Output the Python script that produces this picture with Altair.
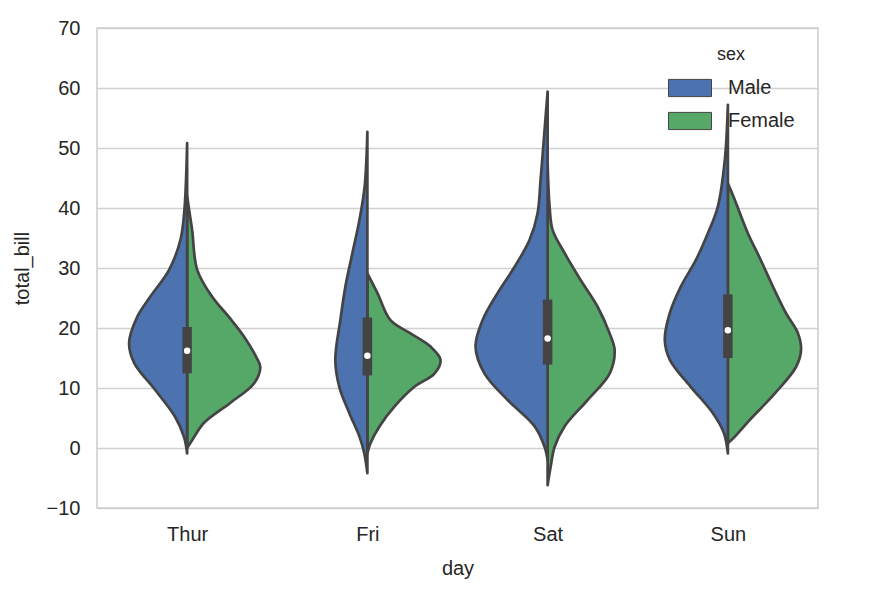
import altair as alt
import pandas as pd

DAYS = ["Thur", "Fri", "Sat", "Sun"]
SEXES = ["Male", "Female"]
COLORS = ["#4C72B0", "#55A868"]

# violin profiles: total_bill levels and half widths (x units)
THUR_MALE_Y = [50.8, 39.7, 34.7, 29.7, 25.2, 21.8, 17.5, 14.2, 9.7, 5.2, 1.8, -0.9]
THUR_MALE_W = [0, .015, .037, .10, .205, .278, .322, .294, .178, .067, .017, 0]
THUR_FEMALE_Y = [42.0, 39.7, 36.3, 29.7, 25.2, 21.8, 18.5, 15.2, 13.5, 10.8, 7.5, 4.2, 1.3, 0.0]
THUR_FEMALE_W = [0, .011, .028, .056, .139, .233, .317, .383, .406, .372, .239, .094, .028, 0]

FRI_MALE_Y = [52.7, 43.6, 38.0, 32.5, 26.9, 21.3, 14.7, 10.2, 5.8, 1.9, -0.9, -4.2]
FRI_MALE_W = [0, .015, .044, .083, .122, .15, .178, .156, .1, .044, .017, 0]
FRI_FEMALE_Y = [29.1, 25.8, 21.3, 19.1, 16.9, 14.7, 12.4, 10.2, 6.9, 3.6, 0.8, -0.9]
FRI_FEMALE_W = [0, .056, .128, .239, .35, .406, .372, .261, .15, .067, .017, 0]

SAT_MALE_Y = [59.4, 53.0, 44.7, 39.1, 34.7, 30.2, 25.8, 21.3, 16.9, 12.4, 8.0, 3.6, 0.2, -2.0]
SAT_MALE_W = [0, .017, .039, .056, .1, .183, .278, .361, .4, .35, .222, .072, .017, 0]
SAT_FEMALE_Y = [47.5, 40.2, 36.3, 32.5, 28.0, 23.5, 19.1, 16.3, 12.4, 8.0, 3.6, 0.2, -3.1, -6.2]
SAT_FEMALE_W = [0, .011, .028, .094, .183, .278, .344, .372, .344, .222, .094, .039, .017, 0]

SUN_MALE_Y = [57.2, 48.0, 40.2, 35.8, 31.3, 26.9, 22.5, 18.0, 14.7, 10.2, 5.8, 2.5, -0.9]
SUN_MALE_W = [0, .017, .056, .111, .178, .261, .322, .35, .322, .206, .083, .022, 0]
SUN_FEMALE_Y = [44.1, 41.3, 35.8, 31.3, 26.9, 22.5, 19.1, 16.3, 13.5, 9.1, 4.7, 1.9, 0.8]
SUN_FEMALE_W = [0, .039, .111, .183, .25, .322, .389, .406, .378, .261, .122, .039, 0]

# inner box per day
Q1 = [12.44, 12.09, 13.9, 14.99]
MEDIAN = [16.2, 15.38, 18.24, 19.63]
Q3 = [20.16, 21.75, 24.74, 25.6]

profiles = {
    ("Thur", "Male"): (THUR_MALE_Y, THUR_MALE_W),
    ("Thur", "Female"): (THUR_FEMALE_Y, THUR_FEMALE_W),
    ("Fri", "Male"): (FRI_MALE_Y, FRI_MALE_W),
    ("Fri", "Female"): (FRI_FEMALE_Y, FRI_FEMALE_W),
    ("Sat", "Male"): (SAT_MALE_Y, SAT_MALE_W),
    ("Sat", "Female"): (SAT_FEMALE_Y, SAT_FEMALE_W),
    ("Sun", "Male"): (SUN_MALE_Y, SUN_MALE_W),
    ("Sun", "Female"): (SUN_FEMALE_Y, SUN_FEMALE_W),
}

rows = []
for (day, sex), (ys, ws) in profiles.items():
    c = DAYS.index(day)
    sign = -1 if sex == "Male" else 1
    for y, w in zip(ys, ws):
        rows.append({"group": f"{day}-{sex}", "sex": sex, "y": y, "x": c, "x2": c + sign * w})
violins = pd.DataFrame(rows).sort_values(["group", "y"])

boxes = pd.DataFrame({"x": list(range(len(DAYS))), "q1": Q1, "q3": Q3, "med": MEDIAN})

FONT = "Liberation Sans"
OUT = "#444444"

xscale = alt.Scale(domain=[-0.5, 3.5], nice=False, zero=False)
yscale = alt.Scale(domain=[-10, 70], nice=False, zero=False)

area = alt.Chart(violins).mark_area(
    orient="horizontal", interpolate="catmull-rom", stroke=OUT, strokeWidth=2.7,
    strokeJoin="round", opacity=1
).encode(
    y=alt.Y("y:Q", scale=yscale, title="total_bill",
            axis=alt.Axis(values=list(range(-10, 71, 10)), format="d")),
    x=alt.X("x:Q", scale=xscale, title="day", stack=None,
            axis=alt.Axis(values=[0, 1, 2, 3], grid=False,
                          labelExpr="['Thur','Fri','Sat','Sun'][datum.value]")),
    x2="x2:Q",
    color=alt.Color("sex:N", scale=alt.Scale(domain=SEXES, range=COLORS),
                    legend=alt.Legend(title="sex", orient="none", legendX=571, legendY=18,
                                      titleAnchor="middle",
                                      symbolType="M-1,-0.4H1V0.4H-1Z", symbolSize=1849,
                                      symbolStrokeColor=OUT, symbolStrokeWidth=1,
                                      symbolOpacity=1, labelOffset=16, rowPadding=-12,
                                      labelFontSize=20, titleFontSize=18,
                                      titleFontWeight="normal", titlePadding=2,
                                      labelColor="#262626", titleColor="#262626",
                                      labelFont=FONT, titleFont=FONT, padding=0)),
    detail="group:N",
)

box = alt.Chart(boxes).mark_rule(color=OUT, strokeWidth=9.5, strokeCap="butt").encode(
    x=alt.X("x:Q", scale=xscale), y=alt.Y("q1:Q", scale=yscale), y2="q3:Q"
)
med = alt.Chart(boxes).mark_point(filled=True, color="white", size=42, opacity=1).encode(
    x=alt.X("x:Q", scale=xscale), y=alt.Y("med:Q", scale=yscale)
)

chart = alt.layer(area, box, med).properties(
    width=721, height=480,
    autosize=alt.AutoSizeParams(type="none"),
    padding={"left": 89, "top": 20, "right": 52, "bottom": 93},
).configure_view(
    stroke="#cccccc", strokeWidth=1.5
).configure_axis(
    domain=False, ticks=False, tickSize=0, gridColor="#d0d0d0", gridWidth=1.5,
    labelFont=FONT, titleFont=FONT, labelFontSize=20, titleFontSize=20,
    labelColor="#262626", titleColor="#262626", titleFontWeight="normal",
).configure_axisY(
    labelPadding=17, titlePadding=14
).configure_axisX(
    labelPadding=16, titlePadding=14
)

chart.save("out.html", embed_options={"renderer": "svg", "actions": False})
